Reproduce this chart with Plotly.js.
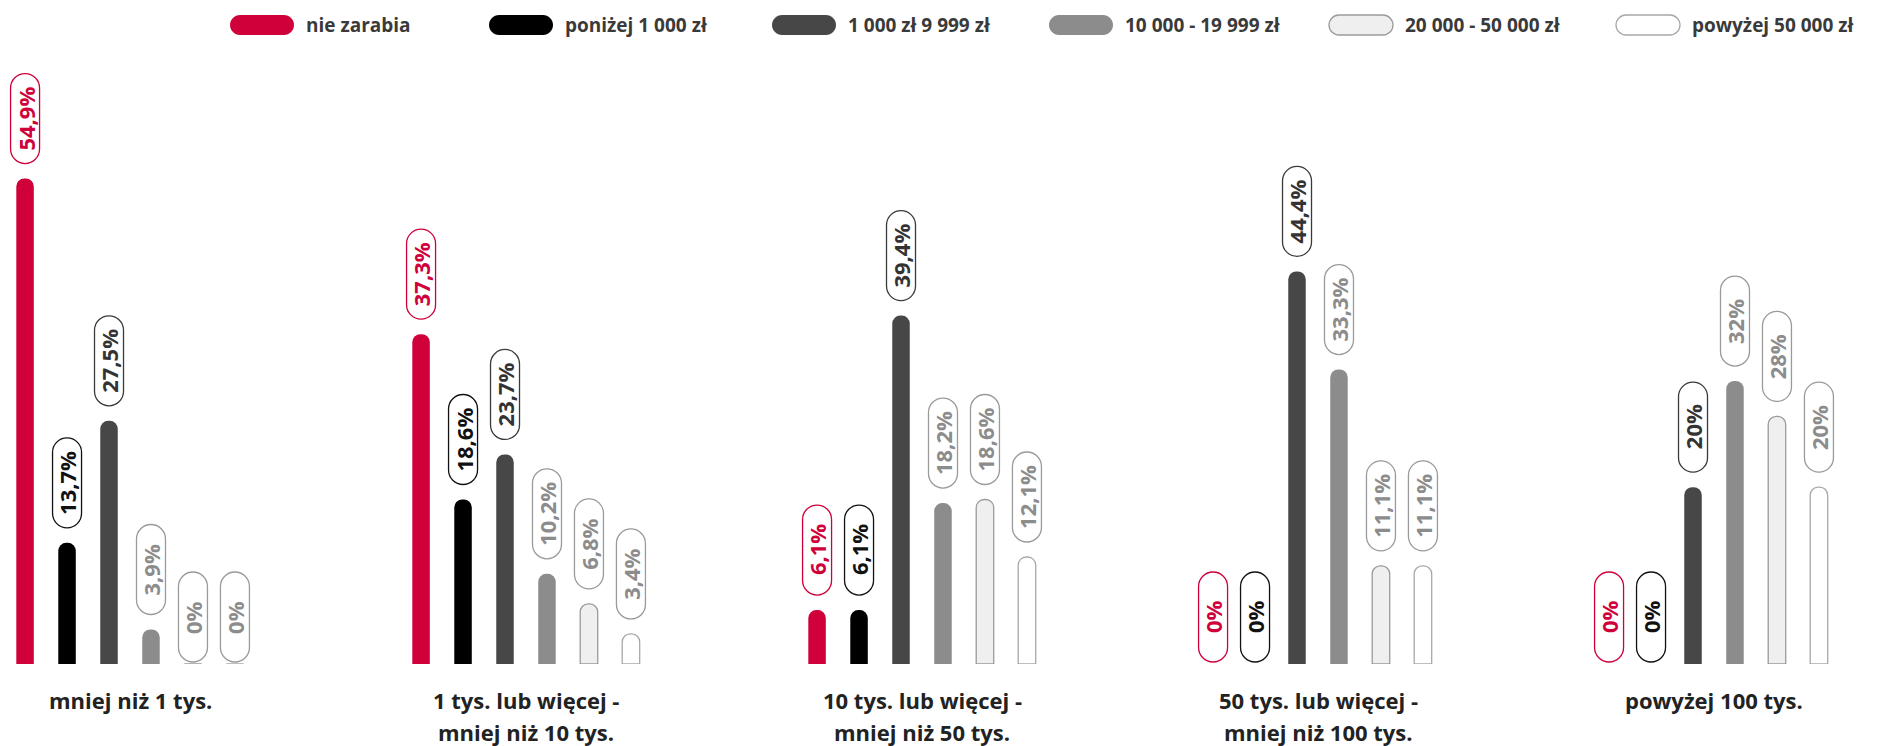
<!DOCTYPE html>
<html>
<head>
<meta charset="utf-8">
<script src="https://cdn.plot.ly/plotly-3.0.1.min.js"></script>
<style>
  html, body { margin: 0; padding: 0; background: #ffffff; }
  #chart { width: 1883px; height: 746px; }
</style>
</head>
<body>
<div id="chart"></div>
<script>
// Income brackets (x groups); "\n" splits a label over two lines
const categories = [
  "mniej niż 1 tys.",
  "1 tys. lub więcej -\nmniej niż 10 tys.",
  "10 tys. lub więcej -\nmniej niż 50 tys.",
  "50 tys. lub więcej -\nmniej niż 100 tys.",
  "powyżej 100 tys."
];

// Series names (legend)
const seriesNames = [
  "nie zarabia",
  "poniżej 1 000 zł",
  "1 000 zł 9 999 zł",
  "10 000 - 19 999 zł",
  "20 000 - 50 000 zł",
  "powyżej 50 000 zł"
];

// Shares in %, one value per category
const nieZarabia     = [54.9, 37.3,  6.1,  0,    0];
const ponizej1000    = [13.7, 18.6,  6.1,  0,    0];
const od1000do9999   = [27.5, 23.7, 39.4, 44.4, 20];
const od10000do19999 = [ 3.9, 10.2, 18.2, 33.3, 32];
const od20000do50000 = [ 0,    6.8, 18.6, 11.1, 28];
const powyzej50000   = [ 0,    3.4, 12.1, 11.1, 20];

const seriesValues = [nieZarabia, ponizej1000, od1000do9999, od10000do19999, od20000do50000, powyzej50000];

// ---- styling ----
const FONT = "Open Sans, Noto Sans, sans-serif";
const styles = [
  { fill: "#D0003A", outline: null,      text: "#D0003A", pill: "#D0003A" },
  { fill: "#000000", outline: null,      text: "#111111", pill: "#111111" },
  { fill: "#474747", outline: null,      text: "#333333", pill: "#3a3a3a" },
  { fill: "#8C8C8C", outline: null,      text: "#8C8C8C", pill: "#9A9A9A" },
  { fill: "#EFEFEF", outline: "#9A9A9A", text: "#8C8C8C", pill: "#9A9A9A" },
  { fill: "#FFFFFF", outline: "#A8A8A8", text: "#8C8C8C", pill: "#9A9A9A" }
];

const W = 1883, H = 746;
const MARGIN = { l: 0, r: 0, t: 45, b: 82 };
const PLOT_H = H - MARGIN.t - MARGIN.b;
const Y_MAX = 70;
const BARGAP = 0.364, BARGROUPGAP = 0.583;
const PX_PER_GROUP = 396;
const FIRST_GROUP_PX = 130;
const X_RANGE = [-FIRST_GROUP_PX / PX_PER_GROUP, (W - FIRST_GROUP_PX) / PX_PER_GROUP];

const nSeries = seriesValues.length;
const slot = (1 - BARGAP) / nSeries;           // width of one bar slot in group units
const xIdx = categories.map((_, i) => i);

const PILL_W = 29, PILL_H = 90, PILL_GAP = 15, PILL_GAP_ZERO = 2;

function fmtPct(v) {
  return (Number.isInteger(v) ? String(v) : v.toFixed(1).replace(".", ",")) + "%";
}

// vertical capsule, centred on x = 0, bottom at y = b (pixels, upwards)
function capsuleV(w, h, b) {
  const r = w / 2, k = 0.5523 * r, t = b + h;
  return `M ${-r},${b + r} L ${-r},${t - r} ` +
         `C ${-r},${t - r + k} ${-k},${t} 0,${t} ` +
         `C ${k},${t} ${r},${t - r + k} ${r},${t - r} ` +
         `L ${r},${b + r} ` +
         `C ${r},${b + r - k} ${k},${b} 0,${b} ` +
         `C ${-k},${b} ${-r},${b + r - k} ${-r},${b + r} Z`;
}

// horizontal capsule centred on (0, 0)
function capsuleH(w, h) {
  const r = h / 2, k = 0.5523 * r, a = w / 2 - r;
  return `M ${-a},${-r} L ${a},${-r} ` +
         `C ${a + k},${-r} ${w / 2},${-k} ${w / 2},0 ` +
         `C ${w / 2},${k} ${a + k},${r} ${a},${r} ` +
         `L ${-a},${r} ` +
         `C ${-a - k},${r} ${-w / 2},${k} ${-w / 2},0 ` +
         `C ${-w / 2},${-k} ${-a - k},${-r} ${-a},${-r} Z`;
}

// ---- bars ----
const traces = seriesValues.map((vals, j) => ({
  type: "bar",
  name: seriesNames[j],
  x: xIdx,
  y: vals,
  marker: {
    color: styles[j].fill,
    cornerradius: 8,
    line: { color: styles[j].outline || styles[j].fill, width: styles[j].outline ? 1.3 : 0 }
  },
  hoverinfo: "skip",
  showlegend: false
}));

const shapes = [];
const annotations = [];

// ---- value pills above the bars ----
seriesValues.forEach((vals, j) => {
  vals.forEach((v, i) => {
    const xc = i + (j - (nSeries - 1) / 2) * slot;
    const gap = v > 0 ? PILL_GAP : PILL_GAP_ZERO;
    shapes.push({
      type: "path",
      xref: "x", yref: "y",
      xsizemode: "pixel", ysizemode: "pixel",
      xanchor: xc, yanchor: v,
      path: capsuleV(PILL_W, PILL_H, gap),
      line: { color: styles[j].pill, width: 1.3 },
      fillcolor: "rgba(255,255,255,0)",
      layer: "above"
    });
    annotations.push({
      xref: "x", yref: "y",
      x: xc, y: v,
      yshift: gap + PILL_H / 2,
      xanchor: "center", yanchor: "middle",
      text: fmtPct(v),
      textangle: -90,
      showarrow: false,
      font: { family: FONT, size: 22, weight: 700, color: styles[j].text }
    });
  });
});

// ---- category labels under the groups ----
categories.forEach((label, i) => {
  label.split("\n").forEach((line, k) => {
    annotations.push({
      xref: "x", yref: "paper",
      x: i, y: 0,
      yshift: -36 - k * 32,
      xanchor: "center", yanchor: "middle",
      text: line,
      showarrow: false,
      font: { family: FONT, size: 22, weight: 700, color: "#222222" }
    });
  });
});

// ---- legend row ----
const LEGEND_LEFT = [230, 489, 772, 1049, 1329, 1616];
const LEGEND_SW_W = 64, LEGEND_SW_H = 20, LEGEND_CY = 25;
const paperX = px => px / W;
const paperY = py => (H - MARGIN.b - py) / PLOT_H;

seriesNames.forEach((name, j) => {
  const left = LEGEND_LEFT[j];
  shapes.push({
    type: "path",
    xref: "paper", yref: "paper",
    xsizemode: "pixel", ysizemode: "pixel",
    xanchor: paperX(left + LEGEND_SW_W / 2), yanchor: paperY(LEGEND_CY),
    path: capsuleH(LEGEND_SW_W, LEGEND_SW_H),
    fillcolor: styles[j].fill,
    line: { color: styles[j].outline || styles[j].fill, width: styles[j].outline ? 1.3 : 0 },
    layer: "above"
  });
  annotations.push({
    xref: "paper", yref: "paper",
    x: paperX(left + LEGEND_SW_W + 10), y: paperY(LEGEND_CY),
    xanchor: "left", yanchor: "middle",
    text: name,
    showarrow: false,
    font: { family: FONT, size: 19, weight: 700, color: "#3a3a3a" }
  });
});

const layout = {
  width: W, height: H,
  margin: MARGIN,
  paper_bgcolor: "#ffffff",
  plot_bgcolor: "#ffffff",
  barmode: "group",
  bargap: BARGAP,
  bargroupgap: BARGROUPGAP,
  showlegend: false,
  xaxis: {
    range: X_RANGE, fixedrange: true,
    showgrid: false, zeroline: false, showline: false,
    showticklabels: false, ticks: ""
  },
  yaxis: {
    range: [0, Y_MAX], fixedrange: true,
    showgrid: false, zeroline: false, showline: false,
    showticklabels: false, ticks: ""
  },
  shapes: shapes,
  annotations: annotations
};

Plotly.newPlot("chart", traces, layout, { displayModeBar: false, staticPlot: true });
</script>
</body>
</html>
